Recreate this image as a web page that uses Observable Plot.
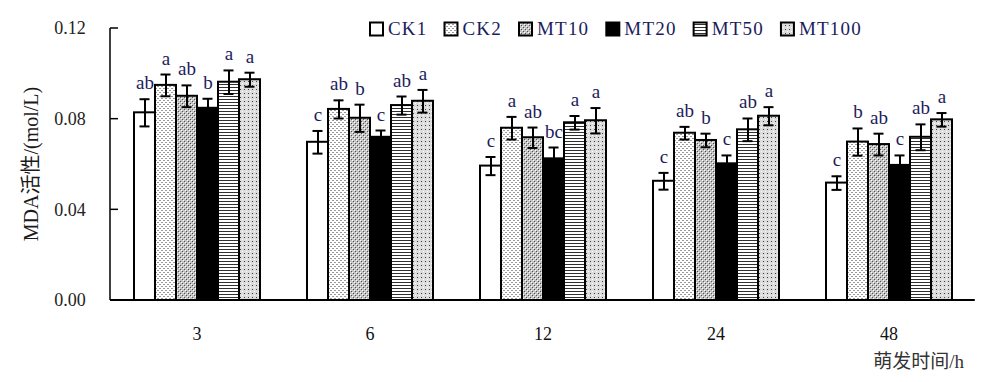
<!DOCTYPE html>
<html><head><meta charset="utf-8">
<script src="https://cdn.jsdelivr.net/npm/d3@7"></script>
<script src="https://cdn.jsdelivr.net/npm/@observablehq/plot@0.6"></script>
<style>
body{margin:0;background:#fff}
#chart{width:994px;height:382px}
#chart svg, #chart svg text{font-family:"Liberation Serif","Times New Roman","DejaVu Serif","Noto Sans CJK SC",serif !important;}
</style>
</head><body><div id="chart"></div>
<script>
const groups = ["3", "6", "12", "24", "48"];
const series = ["CK1", "CK2", "MT10", "MT20", "MT50", "MT100"];
const yTicks = [0, 0.04, 0.08, 0.12];

const ck1   = [0.0828, 0.0698, 0.0593, 0.0526, 0.0518];
const ck2   = [0.0949, 0.0843, 0.0760, 0.0738, 0.0699];
const mt10  = [0.0901, 0.0804, 0.0718, 0.0706, 0.0688];
const mt20  = [0.0848, 0.0720, 0.0625, 0.0603, 0.0596];
const mt50  = [0.0963, 0.0860, 0.0784, 0.0753, 0.0720];
const mt100 = [0.0974, 0.0879, 0.0793, 0.0813, 0.0797];

const ck1Err   = [0.0060, 0.0050, 0.0040, 0.0037, 0.0030];
const ck2Err   = [0.0048, 0.0040, 0.0050, 0.0028, 0.0060];
const mt10Err  = [0.0048, 0.0060, 0.0045, 0.0030, 0.0048];
const mt20Err  = [0.0042, 0.0030, 0.0050, 0.0037, 0.0044];
const mt50Err  = [0.0052, 0.0040, 0.0030, 0.0050, 0.0057];
const mt100Err = [0.0031, 0.0050, 0.0056, 0.0040, 0.0030];

const ck1Sig   = ["ab", "c", "c", "c", "c"];
const ck2Sig   = ["a", "ab", "a", "ab", "b"];
const mt10Sig  = ["ab", "b", "ab", "b", "ab"];
const mt20Sig  = ["b", "c", "bc", "c", "c"];
const mt50Sig  = ["a", "ab", "a", "ab", "ab"];
const mt100Sig = ["a", "a", "a", "a", "a"];

const vals = [ck1, ck2, mt10, mt20, mt50, mt100];
const errs = [ck1Err, ck2Err, mt10Err, mt20Err, mt50Err, mt100Err];
const sigs = [ck1Sig, ck2Sig, mt10Sig, mt20Sig, mt50Sig, mt100Sig];

const data = [];
series.forEach((s, si) => groups.forEach((g, gi) => data.push({
  group: g, series: s, value: vals[si][gi], err: errs[si][gi], sig: sigs[si][gi]
})));

const fills = {
  CK1: "#ffffff", CK2: "url(#p-ck2)", MT10: "url(#p-mt10)",
  MT20: "#000000", MT50: "url(#p-mt50)", MT100: "url(#p-mt100)"
};

const serif = "'Liberation Serif','Times New Roman','DejaVu Serif','Noto Sans CJK SC',serif";
const mL = 110, mR = 19.2, mT = 28, mB = 82;
const pIn = 0.268, pOut = 0.125;
const step = (994 - mL - mR) / (groups.length - pIn + 2 * pOut);
const facetOffset = pOut * step;

const plot = Plot.plot({
  width: 994, height: 382,
  marginLeft: mL, marginRight: mR, marginTop: mT, marginBottom: mB,
  style: {fontFamily: serif, fontSize: "17px", background: "#fff", color: "#000", overflow: "visible"},
  fx: {domain: groups, paddingInner: pIn, paddingOuter: pOut, label: null},
  x: {domain: series, padding: 0, axis: null},
  y: {domain: [0, 0.12]},
  marks: [
    ...series.map(s => Plot.barY(data.filter(d => d.series === s), {
      fx: "group", x: "series", y: "value", fill: fills[s], stroke: "#000", strokeWidth: 2
    })),
    Plot.ruleX(data, {fx: "group", x: "series", y1: d => d.value - d.err, y2: d => d.value + d.err, stroke: "#000", strokeWidth: 2}),
    Plot.tickY(data, {fx: "group", x: "series", y: d => d.value + d.err, insetLeft: 5.5, insetRight: 5.5, stroke: "#000", strokeWidth: 2}),
    Plot.tickY(data, {fx: "group", x: "series", y: d => d.value - d.err, insetLeft: 5.5, insetRight: 5.5, stroke: "#000", strokeWidth: 2}),
    Plot.text(data, {fx: "group", x: "series", y: d => d.value + d.err, text: "sig", lineAnchor: "bottom", dy: -10, fontSize: 19, fill: "#1c1c5c"}),
    Plot.axisFx({anchor: "bottom", tickSize: 0, tickPadding: 27, label: null, fontSize: 18, fill: "#111"}),
    Plot.axisY({anchor: "left", ticks: yTicks, tickFormat: d3.format(".2f"), tickSize: 0, tickPadding: 26 + facetOffset, label: null, fontSize: 18, fill: "#222"})
  ]
});

document.getElementById("chart").appendChild(plot);

const svg = d3.select(plot);
const y = plot.scale("y");

// patterns
const defs = svg.insert("defs", ":first-child");
function pat(id, w, h, bg, cells) {
  const p = defs.append("pattern").attr("id", id).attr("width", w).attr("height", h).attr("patternUnits", "userSpaceOnUse");
  p.append("rect").attr("width", w).attr("height", h).attr("fill", bg);
  cells.forEach(([x, yy, cw, ch, c]) => p.append("rect").attr("x", x).attr("y", yy).attr("width", cw).attr("height", ch).attr("fill", c));
}
pat("p-ck2", 4, 4, "#ffffff", [[0, 0, 2, 1, "#9a9a9a"], [2, 2, 2, 1, "#9a9a9a"]]);
pat("p-mt10", 4, 4, "#c4c4c4", [[0, 0, 1, 1, "#ffffff"], [2, 2, 1, 1, "#ffffff"], [1, 1, 1, 1, "#505050"], [3, 3, 1, 1, "#505050"]]);
pat("p-mt50", 3, 3, "#ffffff", [[0, 0, 3, 1, "#303030"]]);
pat("p-mt100", 4, 4, "#dcdcdc", [[1, 1, 1, 1, "#404040"], [3, 3, 1, 1, "#ffffff"]]);

// axis lines and inward ticks
const x0 = mL, x1 = 994 - mR;
const ax = svg.append("g").attr("stroke", "#000");
ax.append("line").attr("x1", x0).attr("x2", x0).attr("y1", y.apply(0.12)).attr("y2", y.apply(0)).attr("stroke-width", 1.5);
yTicks.forEach(t => ax.append("line").attr("x1", x0).attr("x2", x0 + 8).attr("y1", y.apply(t)).attr("y2", y.apply(t)).attr("stroke-width", 1.5));
ax.append("line").attr("x1", x0).attr("x2", x1).attr("y1", y.apply(0)).attr("y2", y.apply(0)).attr("stroke-width", 2);

// axis titles
svg.append("text").attr("transform", `translate(31,${(y.apply(0) + y.apply(0.12)) / 2}) rotate(-90)`)
  .attr("text-anchor", "middle").attr("dominant-baseline", "central")
  .attr("font-size", 20).attr("fill", "#1a1a1a")
  .text("MDA活性/(mol/L)");
svg.append("text").attr("x", 964).attr("y", 368).attr("text-anchor", "end")
  .attr("font-size", 19).attr("fill", "#333")
  .text("萌发时间/h");

// legend
const lg = svg.append("g").attr("font-size", 19).attr("fill", "#1c1c5c").attr("text-anchor", "start");
let lx = 370;
series.forEach(s => {
  lg.append("rect").attr("x", lx).attr("y", 22.5).attr("width", 13).attr("height", 13)
    .attr("fill", fills[s]).attr("stroke", "#000").attr("stroke-width", 2);
  const t = lg.append("text").attr("x", lx + 18).attr("y", 35).attr("letter-spacing", 1.2).text(s);
  lx += 18 + t.node().getComputedTextLength() + 17;
});
</script>
</body></html>
